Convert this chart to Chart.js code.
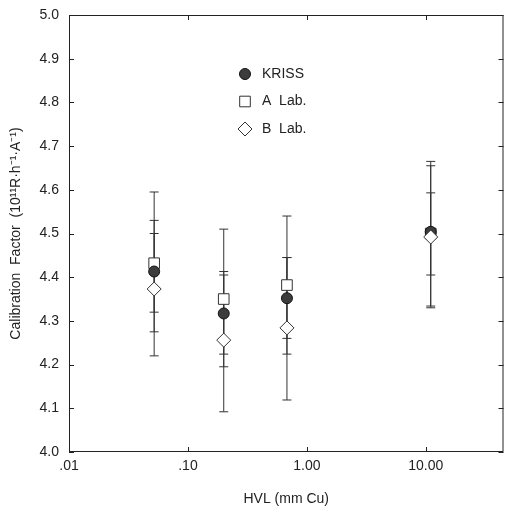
<!DOCTYPE html>
<html>
<head>
<meta charset="utf-8">
<script src="https://cdn.jsdelivr.net/npm/chart.js@4/dist/chart.umd.min.js"></script>
<style>
  html, body { margin: 0; background: #fff; overflow: hidden; }
  canvas { display: block; }
</style>
</head>
<body>
<canvas id="myChart" width="512" height="513"></canvas>
<script>
// VALORES
const hvl = [0.052, 0.2, 0.68, 11];

const kriss = [4.413, 4.317, 4.352, 4.504];
const krissLo = [4.32, 4.224, 4.26, 4.405];
const krissHi = [4.5, 4.413, 4.445, 4.593];

const labA = [4.432, 4.35, 4.382, 4.5];
const labALo = [4.275, 4.195, 4.224, 4.334];
const labAHi = [4.595, 4.51, 4.54, 4.665];

const labB = [4.373, 4.256, 4.284, 4.492];
const labBLo = [4.22, 4.092, 4.119, 4.33];
const labBHi = [4.53, 4.405, 4.445, 4.655];

const xTickValues = [0.01, 0.1, 1, 10];
const xTickLabels = [".01", ".10", "1.00", "10.00"];
const yTickLabels = ["4.0", "4.1", "4.2", "4.3", "4.4", "4.5", "4.6", "4.7", "4.8", "4.9", "5.0"];
const legendLabels = ["KRISS", "A  Lab.", "B  Lab."];

const FONT = "Liberation Sans";
const INK = "#222";

function points(ys) {
  return hvl.map((x, i) => ({ x: x, y: ys[i] }));
}

function errorBars(lo, hi) {
  const out = [];
  hvl.forEach((x, i) => {
    out.push({ x: x, y: lo[i] }, { x: x, y: hi[i] }, { x: x, y: null });
  });
  return out;
}

function errorDataset(lo, hi) {
  return {
    type: "line",
    data: errorBars(lo, hi),
    borderColor: "#333",
    borderWidth: 1,
    pointStyle: "line",
    pointRadius: 4.5,
    pointBorderColor: "#333",
    pointBorderWidth: 1,
    spanGaps: false,
    fill: false,
  };
}

// marcas para a legenda
const markers = [
  { pointStyle: "circle", radius: 5.5, fill: "#3c3c3c", stroke: "#111" },
  { pointStyle: "rect", radius: 7.5, fill: "#fff", stroke: "#333" },
  { pointStyle: "rectRot", radius: 7, fill: "#fff", stroke: "#333" },
];

// moldura, ticks para dentro e legenda
const frame = {
  id: "frame",
  afterDraw(chart) {
    const {
      ctx,
      chartArea: { top, right, bottom, left },
      scales: { x, y },
    } = chart;
    ctx.save();
    ctx.strokeStyle = "#222";
    ctx.lineWidth = 1;
    ctx.strokeRect(left + 0.5, top + 0.5, right - left - 1, bottom - top - 1);

    ctx.beginPath();
    y.ticks.forEach((t) => {
      const py = Math.round(y.getPixelForValue(t.value)) + 0.5;
      ctx.moveTo(left, py);
      ctx.lineTo(left + 5, py);
      ctx.moveTo(right, py);
      ctx.lineTo(right - 5, py);
    });
    x.ticks.forEach((t) => {
      const px = Math.round(x.getPixelForValue(t.value)) + 0.5;
      ctx.moveTo(px, bottom);
      ctx.lineTo(px, bottom - 5);
      ctx.moveTo(px, top);
      ctx.lineTo(px, top + 5);
    });
    ctx.stroke();

    ctx.font = "14px " + FONT;
    ctx.textBaseline = "middle";
    ctx.textAlign = "left";
    legendLabels.forEach((label, i) => {
      const m = markers[i];
      const ly = 74 + i * 27.5;
      ctx.fillStyle = m.fill;
      ctx.strokeStyle = m.stroke;
      Chart.helpers.drawPoint(
        ctx,
        { pointStyle: m.pointStyle, radius: m.radius, borderWidth: 1, rotation: 0 },
        245,
        ly
      );
      ctx.fillStyle = INK;
      ctx.fillText(label, 262, ly);
    });
    ctx.restore();
  },
};

const CHART = document.getElementById("myChart");

let calibChart = new Chart(CHART, {
  type: "scatter",
  data: {
    datasets: [
      {
        label: legendLabels[2],
        data: points(labB),
        pointStyle: "rectRot",
        pointRadius: 7,
        backgroundColor: "#fff",
        borderColor: "#333",
        borderWidth: 1,
      },
      {
        label: legendLabels[0],
        data: points(kriss),
        pointStyle: "circle",
        pointRadius: 5.5,
        backgroundColor: "#3c3c3c",
        borderColor: "#111",
        borderWidth: 1,
      },
      {
        label: legendLabels[1],
        data: points(labA),
        pointStyle: "rect",
        pointRadius: 7.5,
        backgroundColor: "#fff",
        borderColor: "#333",
        borderWidth: 1,
      },
      errorDataset(krissLo, krissHi),
      errorDataset(labALo, labAHi),
      errorDataset(labBLo, labBHi),
    ],
  },
  options: {
    responsive: false,
    animation: false,
    devicePixelRatio: 1,
    layout: { padding: { top: 15, right: 1, left: 0, bottom: 0 } },
    plugins: {
      legend: { display: false },
      tooltip: { enabled: false },
    },
    scales: {
      x: {
        type: "logarithmic",
        min: 0.01,
        max: 45,
        afterBuildTicks: (scale) => {
          scale.ticks = xTickValues.map((v) => ({ value: v }));
        },
        afterFit: (scale) => {
          scale.height = 61;
        },
        grid: { display: false, drawTicks: false },
        border: { display: false },
        ticks: {
          autoSkip: false,
          maxRotation: 0,
          padding: 6,
          color: INK,
          font: { family: FONT, size: 14 },
          callback: (v, i) => xTickLabels[i],
        },
        title: {
          display: true,
          text: "HVL (mm Cu)",
          color: INK,
          font: { family: FONT, size: 14 },
          padding: { top: 0, bottom: 5 },
        },
      },
      y: {
        min: 4,
        max: 5,
        afterFit: (scale) => {
          scale.width = 69;
          scale.paddingTop = 0;
          scale.paddingBottom = 0;
        },
        grid: { display: false, drawTicks: false },
        border: { display: false },
        ticks: {
          stepSize: 0.1,
          padding: 10,
          color: INK,
          font: { family: FONT, size: 14 },
          callback: (v, i) => yTickLabels[i],
        },
        title: {
          display: true,
          text: "Calibration  Factor  (10\u00b9\u00b9R\u00b7h\u207b\u00b9\u00b7A\u207b\u00b9)",
          color: INK,
          font: { family: FONT, size: 14 },
          padding: { top: 8, bottom: 0 },
        },
      },
    },
  },
  plugins: [frame],
});
</script>
</body>
</html>
